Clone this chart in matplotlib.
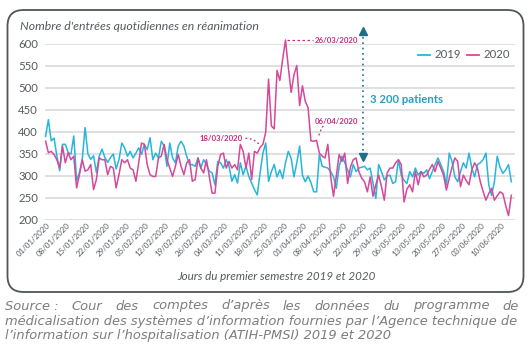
import matplotlib
matplotlib.use('Agg')
import matplotlib.pyplot as plt
from matplotlib.patches import FancyBboxPatch
from matplotlib.transforms import IdentityTransform, ScaledTranslation
from matplotlib.lines import Line2D

W, H = 531, 346
fig = plt.figure(figsize=(W / 100, H / 100), dpi=100)
ID = IdentityTransform()

# ---------------- data ----------------
days = list(range(166))
v2019 = [390, 428, 380, 386, 346, 312, 372, 372, 353, 350,
         391, 289, 308, 338, 410, 350, 338, 346, 308, 345,
         361, 342, 331, 342, 350, 316, 337, 375, 364, 345,
         356, 341, 352, 364, 349, 372, 360, 387, 337, 352,
         341, 379, 368, 322, 375, 341, 330, 368, 379, 368,
         345, 326, 326, 322, 341, 318, 337, 326, 311, 307,
         280, 333, 330, 318, 337, 322, 288, 303, 284, 330,
         303, 322, 299, 284, 269, 257, 307, 352, 375, 288,
         310, 326, 298, 314, 294, 330, 356, 340, 298, 330,
         368, 302, 287, 300, 285, 264, 264, 349, 322, 320,
         318, 310, 298, 272, 322, 345, 330, 314, 298, 326,
         310, 318, 320, 322, 314, 318, 283, 249, 326, 310,
         291, 300, 302, 283, 287, 337, 302, 290, 283, 310,
         298, 318, 302, 310, 306, 314, 294, 310, 326, 341,
         326, 310, 280, 352, 333, 298, 287, 310, 330, 318,
         352, 318, 298, 326, 330, 337, 352, 280, 256, 287,
         345, 320, 306, 314, 326, 287]
v2020 = [379, 353, 356, 349, 337, 318, 368, 330, 353, 337,
         345, 273, 303, 337, 311, 314, 326, 269, 292, 341,
         337, 337, 303, 322, 318, 273, 303, 337, 330, 337,
         318, 314, 288, 330, 375, 372, 326, 303, 299, 299,
         341, 345, 372, 337, 318, 299, 322, 349, 322, 303,
         330, 337, 288, 292, 341, 318, 307, 337, 299, 261,
         261, 322, 349, 352, 318, 333, 318, 326, 314, 372,
         356, 318, 352, 292, 356, 352, 365, 372, 400, 520,
         414, 407, 540, 517, 566, 609, 547, 490, 530, 551,
         460, 505, 470, 455, 380, 379, 381, 352, 345, 341,
         372, 298, 254, 300, 349, 333, 352, 283, 320, 337,
         341, 310, 295, 287, 264, 298, 254, 280, 302, 276,
         245, 307, 318, 318, 330, 337, 326, 241, 270, 280,
         264, 310, 280, 310, 298, 302, 315, 326, 310, 333,
         318, 302, 268, 295, 320, 341, 333, 276, 302, 290,
         280, 314, 330, 318, 287, 265, 245, 260, 272, 245,
         255, 264, 260, 233, 210, 256]
tick_days = list(range(0, 162, 7))
tick_labels = ['01/01/2020', '08/01/2020', '15/01/2020', '22/01/2020', '29/01/2020',
               '05/02/2020', '12/02/2020', '19/02/2020', '26/02/2020', '04/03/2020',
               '11/03/2020', '18/03/2020', '25/03/2020', '01/04/2020', '08/04/2020',
               '15/04/2020', '22/04/2020', '29/04/2020', '06/05/2020', '13/05/2020',
               '20/05/2020', '27/05/2020', '03/06/2020', '10/06/2020']
y_ticks = [200, 250, 300, 350, 400, 450, 500, 550, 600]
series_names = ['2019', '2020']

C19 = '#26b6dc'
C20 = '#d5489a'
CANN = '#c0307f'
CTEAL = '#2a9dc2'
CARR = '#1f6f8c'
GRAY = '#555a60'
FONT = 'Lato'

# ---------------- frame ----------------
box = FancyBboxPatch((7.5, H - 292), 516, 282,
                     boxstyle='round,pad=0,rounding_size=16',
                     transform=ID, fc='none', ec='#50555a', lw=1.3, zorder=10)
fig.patches.append(box)

# ---------------- axes ----------------
ax = fig.add_axes([45 / W, (H - 220) / H, 470 / W, 176 / H])
ax.set_xlim(-0.2, 166.3)
ax.set_ylim(200, 600)
for s in ax.spines.values():
    s.set_visible(False)
ax.set_yticks(y_ticks)
ax.yaxis.grid(True, color='#d9dadd', lw=1.2)
ax.set_axisbelow(True)
ax.tick_params(length=0)
ax.tick_params(axis='y', pad=5, labelsize=8.2, labelcolor=GRAY)
for lab in ax.get_yticklabels():
    lab.set_fontfamily(FONT)
ax.set_xticks(tick_days)
ax.set_xticklabels(tick_labels, rotation=45, ha='right', va='center',
                   rotation_mode='anchor', fontsize=5.7, color=GRAY, family=FONT)
ax.tick_params(axis='x', pad=3)
for lab in ax.get_xticklabels():
    lab.set_transform(lab.get_transform() + ScaledTranslation(4 / 100, 0, fig.dpi_scale_trans))
ax.patch.set_alpha(0)

ax.plot(days, v2019, color=C19, lw=1.1, clip_on=False, zorder=3)
ax.plot(days, v2020, color=C20, lw=1.1, clip_on=False, zorder=4)

# annotations
ax.plot([85.6, 94.6], [609, 609], color=CANN, lw=0.9, ls=(0, (2, 2)), clip_on=False)
ax.text(95.3, 609, '26/03/2020', color=CANN, fontsize=5.6, family=FONT,
        fontweight='bold', va='center', ha='left', clip_on=False)
ax.text(70.0, 386, '18/03/2020', color=CANN, fontsize=5.6, family=FONT,
        fontweight='bold', va='center', ha='right')
ax.plot([70.8, 73.5, 75.6], [386, 383, 373], color=CANN, lw=0.9, ls=(0, (1.5, 2)))
ax.text(95.2, 423, '06/04/2020', color=CANN, fontsize=5.6, family=FONT,
        fontweight='bold', va='center', ha='left')
ax.plot([98.4, 97.5, 96.8], [414, 404, 392], color=CANN, lw=0.9, ls=(0, (1.5, 2)))

# 3 200 patients arrow
ax.plot([112.5, 112.5], [345, 628], color=CARR, lw=1.2, ls=(0, (1, 2.2)), clip_on=False)
ax.plot([112.5], [630], marker='^', color=CARR, ms=5.5, clip_on=False)
ax.plot([112.5], [343], marker='v', color=CARR, ms=5.5, clip_on=False)
ax.text(115.0, 473, '3 200 patients', color=CTEAL, fontsize=8.2, family=FONT,
        fontweight='bold', va='center', ha='left')

# ---------------- texts ----------------
fig.text(20, H - 27, "Nombre d'entrées quotidiennes en réanimation", transform=ID,
         fontsize=8.8, style='italic', color=GRAY, family=FONT, va='center', ha='left')
fig.text(276, H - 276, 'Jours du premier semestre 2019 et 2020', transform=ID,
         fontsize=8.4, style='italic', color=GRAY, family=FONT, va='center', ha='center')

# legend
for i, (name, col) in enumerate(zip(series_names, [C19, C20])):
    x0 = 418 + i * 49
    fig.lines.append(Line2D([x0, x0 + 12], [H - 55, H - 55], color=col, lw=1.3, transform=ID))
    fig.text(x0 + 16, H - 55, name, transform=ID, fontsize=8.2, color=GRAY,
             family=FONT, va='center', ha='left')

# ---------------- source ----------------
lines = ["Source\u00a0: Cour des comptes d’après les données du programme de",
         "médicalisation des systèmes d’information fournies par l’Agence technique de",
         "l’information sur l’hospitalisation (ATIH-PMSI) 2019 et 2020"]
ys = [306, 321, 335]
left, right = 5, 519
r = fig.canvas.get_renderer()
SRC = dict(style='italic', color='#7d7d7d', family='DejaVu Sans', va='center', ha='left')

fs = 8.0
for _ in range(4):
    probe = fig.text(left, H - ys[1], lines[1], fontsize=fs, transform=ID, **SRC)
    wpx = probe.get_window_extent(r).width
    probe.remove()
    fs = fs * (right - left) / wpx

fig.text(left, H - ys[1], lines[1], fontsize=fs, transform=ID, **SRC)
fig.text(left, H - ys[2], lines[2], fontsize=fs, transform=ID, **SRC)

words = lines[0].split(' ')
arts = [fig.text(0, H - ys[0], w, fontsize=fs, transform=ID, **SRC) for w in words]
widths = [a.get_window_extent(r).width for a in arts]
gap = (right - left - sum(widths)) / (len(words) - 1)
x = left
for a, w in zip(arts, widths):
    a.set_x(x)
    x += w + gap

fig.savefig('out.png', dpi=100, facecolor='white')
